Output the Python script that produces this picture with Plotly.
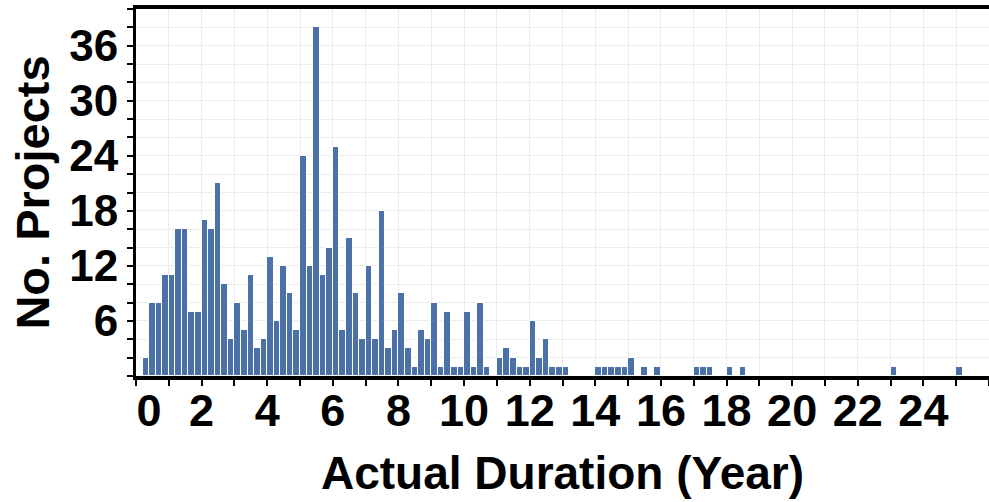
import plotly.graph_objects as go

# Histogram of actual project durations, bins of 0.2 years starting at 0
BIN_WIDTH = 0.2
BIN_START = 0.0
COUNTS = [
    0, 2, 8, 8, 11, 11, 16, 16, 7, 7,
    17, 16, 21, 10, 4, 8, 5, 11, 3, 4,
    13, 6, 12, 9, 5, 24, 12, 38, 11, 14,
    25, 5, 15, 9, 4, 12, 4, 18, 3, 5,
    9, 3, 1, 5, 4, 8, 1, 7, 1, 1,
    7, 1, 8, 1, 0, 2, 3, 2, 1, 1,
    6, 2, 4, 1, 1, 1, 0, 0, 0, 0,
    1, 1, 1, 1, 1, 2, 0, 1, 0, 1,
    0, 0, 0, 0, 0, 1, 1, 1, 0, 0,
    1, 0, 1, 0, 0, 0, 0, 0, 0, 0,
    0, 0, 0, 0, 0, 0, 0, 0, 0, 0,
    0, 0, 0, 0, 0, 1, 0, 0, 0, 0,
    0, 0, 0, 0, 0, 1,
]
X_TICKS = [0, 2, 4, 6, 8, 10, 12, 14, 16, 18, 20, 22, 24]
Y_TICKS = [6, 12, 18, 24, 30, 36]

centers = [BIN_START + (i + 0.5) * BIN_WIDTH for i in range(len(COUNTS))]

FONT = "Liberation Sans, Arial, sans-serif"
GRID = "#ececec"

# the first x label sits slightly inside the plot in the reference
x_label_pos = [v if v != 0 else 0.4 for v in X_TICKS]

fig = go.Figure(
    go.Bar(
        x=centers,
        y=COUNTS,
        width=BIN_WIDTH,
        marker=dict(color="#4b72a8", line=dict(color="white", width=1)),
    )
)

fig.update_layout(
    width=989,
    height=502,
    autosize=False,
    margin=dict(l=136, r=0, t=9, b=126),
    plot_bgcolor="white",
    paper_bgcolor="white",
    showlegend=False,
    bargap=0,
    font=dict(family=FONT, color="black"),
)

fig.update_xaxes(
    range=[0, 26],
    tickvals=x_label_pos,
    ticktext=[str(v) for v in X_TICKS],
    ticks="outside",
    ticklen=0,
    ticklabelstandoff=-8,
    tickfont=dict(size=45, family=FONT, weight="bold"),
    showgrid=False,
    zeroline=False,
    showline=True,
    linecolor="black",
    linewidth=3.5,
    mirror=True,
    minor=dict(dtick=1, tick0=0, ticks="outside", ticklen=6, tickwidth=1.5,
               tickcolor="black", showgrid=True, gridcolor=GRID, gridwidth=1),
    title=dict(text="Actual Duration (Year)",
               font=dict(size=46, family=FONT, weight="bold"), standoff=23),
    automargin=False,
)

fig.update_yaxes(
    range=[0, 40],
    tickvals=Y_TICKS,
    ticks="outside",
    ticklen=6,
    tickwidth=1.5,
    tickcolor="black",
    tickfont=dict(size=44, family=FONT, weight="bold"),
    showgrid=True,
    gridcolor=GRID,
    zeroline=False,
    showline=True,
    linecolor="black",
    linewidth=3,
    minor=dict(dtick=2, tick0=0, ticks="outside", ticklen=6, tickwidth=1.5,
               tickcolor="black", showgrid=True, gridcolor=GRID, gridwidth=1),
    title=dict(text="No. Projects",
               font=dict(size=47, family=FONT, weight="bold"), standoff=5),
    automargin=False,
)

fig.write_html("out.html")
